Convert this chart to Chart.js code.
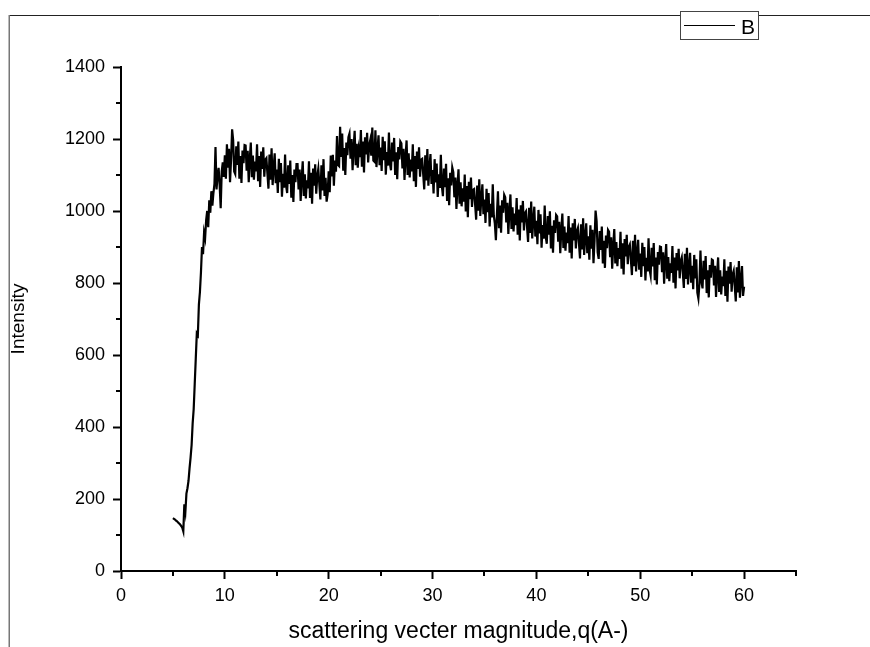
<!DOCTYPE html>
<html>
<head>
<meta charset="utf-8">
<script src="https://cdn.jsdelivr.net/npm/chart.js@4.4.1/dist/chart.umd.min.js"></script>
<style>
html,body{margin:0;padding:0;background:#fff;}
canvas{display:block;}
</style>
</head>
<body>
<canvas id="c" width="870" height="647"></canvas>
<script>
// q sampling: start and step of the measured series
const qStart = 5.0;
const qStep = 0.1;

// Intensity values, one row per unit of q
const intensity = [
  147,145,143,140,138,135,132,129,125,120,            // 5
  110,185,165,215,230,250,285,315,350,410,            // 6
  450,520,590,660,655,740,775,830,900,880,            // 7
  940,925,975,1000,955,1030,995,1055,1015,1050,       // 8
  1075,1178,1060,1098,1120,1072,1008,1110,1135,1095,  // 9
  1155,1090,1185,1120,1173,1080,1143,1227,1197,1110,  // 10
  1103,1180,1128,1193,1090,1153,1078,1168,1133,1183,  // 11
  1182,1112,1167,1080,1144,1190,1094,1154,1087,1137,  // 12
  1110,1185,1083,1153,1067,1165,1117,1177,1095,1143,  // 13
  1147,1104,1062,1157,1087,1174,1072,1122,1160,1077,  // 14
  1115,1050,1145,1080,1133,1040,1103,1065,1157,1070,  // 15
  1050,1127,1075,1140,1037,1100,1025,1115,1080,1130,  // 16
  1130,1060,1115,1028,1092,1138,1042,1102,1035,1085,  // 17
  1063,1138,1036,1106,1020,1118,1070,1130,1048,1096,  // 18
  1117,1074,1032,1127,1057,1144,1042,1092,1026,1047,  // 19
  1110,1052,1154,1096,1156,1070,1140,1109,1208,1128,  // 20
  1125,1234,1150,1215,1112,1175,1100,1190,1155,1205,  // 21
  1215,1145,1200,1113,1177,1223,1127,1187,1120,1170,  // 22
  1150,1225,1123,1193,1107,1205,1157,1217,1135,1183,  // 23
  1197,1154,1232,1140,1137,1224,1122,1172,1210,1127,  // 24
  1176,1111,1206,1141,1194,1101,1164,1126,1218,1131,  // 25
  1113,1190,1138,1203,1100,1163,1088,1178,1143,1193,  // 26
  1188,1118,1173,1086,1150,1196,1100,1160,1093,1143,  // 27
  1110,1185,1083,1153,1067,1165,1117,1177,1095,1143,  // 28
  1145,1102,1060,1155,1085,1172,1070,1120,1158,1075,  // 29
  1114,1049,1144,1079,1132,1039,1102,1064,1156,1069,  // 30
  1041,1118,1066,1131,1028,1091,1016,1106,1071,1121,  // 31
  1108,1038,1093,1006,1070,1116,1020,1080,1013,1063,  // 32
  1026,1101,999,1069,983,1081,1033,1093,1011,1059,    // 33
  1061,1018,976,1071,1001,1088,986,1036,1074,991,     // 34
  1032,967,1062,997,1050,957,1020,982,1074,987,       // 35
  965,919,990,1055,952,1015,940,1030,995,1045,        // 36
  1038,968,1023,936,1000,1046,950,1010,943,993,       // 37
  961,1036,934,1004,918,1016,968,1028,946,994,        // 38
  999,956,914,1009,939,1026,924,974,1012,929,         // 39
  973,908,1003,938,991,898,961,923,1015,928,          // 40
  909,986,934,999,896,959,884,974,939,989,            // 41
  985,915,970,883,947,993,897,957,890,940,            // 42
  911,986,884,954,868,966,918,978,896,944,            // 43
  953,910,868,963,893,980,878,928,966,883,            // 44
  930,865,960,895,948,855,918,1001,972,885,           // 45
  867,944,892,957,854,917,842,932,897,947,            // 46
  942,872,927,840,904,950,854,914,847,897,            // 47
  867,942,840,910,824,922,874,934,852,900,            // 48
  907,864,822,917,847,934,832,882,920,837,            // 49
  882,817,912,847,900,807,870,832,924,837,            // 50
  821,898,846,911,808,871,796,886,851,901,            // 51
  900,830,885,798,862,908,812,872,805,855,            // 52
  828,903,801,871,785,883,835,895,813,861,            // 53
  871,828,786,881,811,898,796,846,884,801,            // 54
  848,783,878,813,866,773,757,798,890,803,            // 55
  785,862,810,875,772,835,760,850,815,865,            // 56
  863,793,848,761,825,871,775,835,768,818,            // 57
  791,866,764,834,748,846,798,858,776,824,            // 58
  834,791,749,844,774,861,759,809,847,764,            // 59
  790                                                 // 60
];

const xTicks = [0, 10, 20, 30, 40, 50, 60];
const xMinorTicks = [5, 15, 25, 35, 45, 55, 65];
const yTicks = [0, 200, 400, 600, 800, 1000, 1200, 1400];
const yMinorTicks = [100, 300, 500, 700, 900, 1100, 1300];
const seriesName = 'B';
const xTitle = 'scattering vecter magnitude,q(A-)';
const yTitle = 'Intensity';

const points = intensity.map((v, i) => ({ x: +(qStart + i * qStep).toFixed(1), y: v }));

const FONT = 'Liberation Sans, Arial, sans-serif';

const decor = {
  id: 'decor',
  beforeDraw(chart) {
    const ctx = chart.ctx;
    ctx.save();
    ctx.fillStyle = '#fff';
    ctx.fillRect(0, 0, chart.width, chart.height);
    ctx.strokeStyle = '#222';
    ctx.lineWidth = 1;
    ctx.beginPath();
    ctx.moveTo(9, 15.5);
    ctx.lineTo(chart.width, 15.5);
    ctx.stroke();
    ctx.strokeStyle = '#777';
    ctx.lineWidth = 1.5;
    ctx.beginPath();
    ctx.moveTo(9.25, 15);
    ctx.lineTo(9.25, chart.height);
    ctx.stroke();
    ctx.restore();
  },
  afterDraw(chart) {
    const ctx = chart.ctx;
    const xs = chart.scales.x, ys = chart.scales.y;
    const area = chart.chartArea;
    ctx.save();
    ctx.strokeStyle = '#000';
    ctx.lineWidth = 2;
    ctx.beginPath();
    yMinorTicks.forEach(v => {
      const y = Math.round(ys.getPixelForValue(v));
      ctx.moveTo(area.left - 5, y);
      ctx.lineTo(area.left, y);
    });
    xMinorTicks.forEach(v => {
      const x = Math.round(xs.getPixelForValue(v));
      ctx.moveTo(x, area.bottom);
      ctx.lineTo(x, area.bottom + 5);
    });
    ctx.stroke();
    // legend box
    ctx.fillStyle = '#fff';
    ctx.fillRect(680, 11, 78, 28);
    ctx.strokeStyle = '#444';
    ctx.lineWidth = 1;
    ctx.strokeRect(680.5, 11.5, 78, 28);
    ctx.strokeStyle = '#000';
    ctx.lineWidth = 1.2;
    ctx.beginPath();
    ctx.moveTo(684, 25.5);
    ctx.lineTo(735, 25.5);
    ctx.stroke();
    ctx.fillStyle = '#000';
    ctx.font = '21px ' + FONT;
    ctx.textBaseline = 'alphabetic';
    ctx.textAlign = 'left';
    ctx.fillText(seriesName, 741, 33.5);
    ctx.restore();
  }
};

new Chart(document.getElementById('c'), {
  type: 'line',
  data: {
    datasets: [{
      label: seriesName,
      data: points,
      borderColor: '#000',
      borderWidth: 2.2,
      borderJoinStyle: 'miter',
      pointRadius: 0,
      tension: 0,
      fill: false
    }]
  },
  options: {
    responsive: false,
    animation: false,
    layout: { padding: { left: 0, top: 67, right: 74, bottom: 0 } },
    plugins: { legend: { display: false }, tooltip: { enabled: false } },
    scales: {
      x: {
        type: 'linear',
        min: 0, max: 65,
        afterFit(s) { s.height = 76; },
        afterBuildTicks(s) { s.ticks = xTicks.map(v => ({ value: v })); },
        ticks: { color: '#000', font: { family: FONT, size: 18 }, padding: 6, maxRotation: 0, includeBounds: false,
                 callback: v => String(v) },
        grid: { display: true, drawOnChartArea: false, drawTicks: true, tickLength: 8, tickWidth: 2, tickColor: '#000' },
        border: { display: true, color: '#000', width: 2 },
        title: { display: true, text: xTitle, color: '#000', font: { family: FONT, size: 23 }, padding: { top: 2, bottom: 2 } }
      },
      y: {
        type: 'linear',
        min: 0, max: 1400,
        afterFit(s) { s.width = 121; },
        afterBuildTicks(s) { s.ticks = yTicks.map(v => ({ value: v })); },
        ticks: { color: '#000', font: { family: FONT, size: 18 }, padding: 8, callback: v => String(v) },
        grid: { display: true, drawOnChartArea: false, drawTicks: true, tickLength: 8, tickWidth: 2, tickColor: '#000' },
        border: { display: true, color: '#000', width: 2 },
        title: { display: true, text: yTitle, color: '#000', font: { family: FONT, size: 19 }, padding: { top: 7, bottom: 7 } }
      }
    }
  },
  plugins: [decor]
});
</script>
</body>
</html>
